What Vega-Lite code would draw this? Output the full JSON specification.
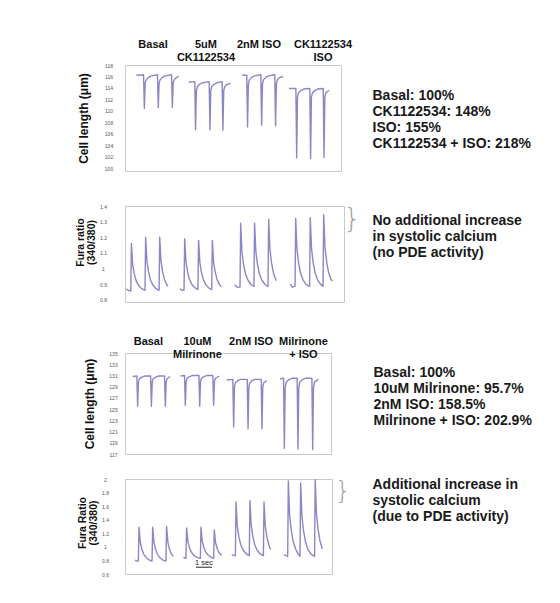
{
 "$schema": "https://vega.github.io/schema/vega-lite/v6.json",
 "background": "white",
 "autosize": {"type": "pad"},
 "padding": {"left": 75, "top": 38, "right": 5, "bottom": 5},
 "config": {
  "font": "Liberation Sans",
  "view": {"stroke": "#c8c8c8", "strokeWidth": 1},
  "axisY": {"grid": false, "ticks": false, "domain": false, "labelOverlap": false, "labelFontSize": 5, "labelColor": "#555", "labelAlign": "center", "labelFont": "Liberation Sans", "titleFont": "Liberation Sans", "titleFontWeight": "bold", "titleColor": "#111", "titleFontSize": 12}
 },
 "datasets": {
  "p1": [
   {"g":1,"t":0.71,"v":116.2},{"g":1,"t":1.16,"v":116.3},{"g":1,"t":1.21,"v":110.4},{"g":1,"t":1.26,"v":114.8},{"g":1,"t":1.32,"v":115.4},{"g":1,"t":1.45,"v":115.8},{"g":1,"t":1.65,"v":116.1},{"g":1,"t":2.03,"v":116.3},{"g":1,"t":2.08,"v":110.6},{"g":1,"t":2.13,"v":114.8},{"g":1,"t":2.19,"v":115.4},{"g":1,"t":2.32,"v":115.8},{"g":1,"t":2.52,"v":116.1},{"g":1,"t":2.91,"v":116.3},{"g":1,"t":2.96,"v":110.6},{"g":1,"t":3.01,"v":114.8},{"g":1,"t":3.07,"v":115.4},{"g":1,"t":3.2,"v":115.8},{"g":1,"t":3.35,"v":116.0},
   {"g":2,"t":3.98,"v":115.0},{"g":2,"t":4.36,"v":115.1},{"g":2,"t":4.41,"v":106.7},{"g":2,"t":4.46,"v":113.5},{"g":2,"t":4.52,"v":114.2},{"g":2,"t":4.65,"v":114.6},{"g":2,"t":4.85,"v":114.9},{"g":2,"t":5.26,"v":115.1},{"g":2,"t":5.31,"v":106.7},{"g":2,"t":5.36,"v":113.5},{"g":2,"t":5.42,"v":114.2},{"g":2,"t":5.55,"v":114.6},{"g":2,"t":5.75,"v":114.9},{"g":2,"t":6.07,"v":115.1},{"g":2,"t":6.12,"v":106.6},{"g":2,"t":6.17,"v":113.5},{"g":2,"t":6.23,"v":114.2},{"g":2,"t":6.36,"v":114.6},{"g":2,"t":6.6,"v":114.8},
   {"g":3,"t":7.33,"v":116.2},{"g":3,"t":7.61,"v":116.2},{"g":3,"t":7.66,"v":107.2},{"g":3,"t":7.71,"v":114.6},{"g":3,"t":7.77,"v":115.4},{"g":3,"t":7.9,"v":115.8},{"g":3,"t":8.1,"v":116.1},{"g":3,"t":8.49,"v":116.3},{"g":3,"t":8.54,"v":107.5},{"g":3,"t":8.59,"v":114.6},{"g":3,"t":8.65,"v":115.4},{"g":3,"t":8.78,"v":115.8},{"g":3,"t":8.98,"v":116.1},{"g":3,"t":9.36,"v":116.3},{"g":3,"t":9.41,"v":107.4},{"g":3,"t":9.46,"v":114.6},{"g":3,"t":9.52,"v":115.4},{"g":3,"t":9.65,"v":115.8},{"g":3,"t":9.88,"v":116.0},
   {"g":4,"t":10.25,"v":113.9},{"g":4,"t":10.68,"v":113.9},{"g":4,"t":10.73,"v":101.8},{"g":4,"t":10.78,"v":112.4},{"g":4,"t":10.84,"v":113.1},{"g":4,"t":10.97,"v":113.5},{"g":4,"t":11.17,"v":113.8},{"g":4,"t":11.55,"v":113.9},{"g":4,"t":11.6,"v":101.7},{"g":4,"t":11.65,"v":112.4},{"g":4,"t":11.71,"v":113.1},{"g":4,"t":11.84,"v":113.5},{"g":4,"t":12.04,"v":113.8},{"g":4,"t":12.39,"v":113.9},{"g":4,"t":12.44,"v":101.9},{"g":4,"t":12.49,"v":112.4},{"g":4,"t":12.55,"v":113.1},{"g":4,"t":12.75,"v":113.6}
  ],
  "p2": [
   {"g":1,"t":0.08,"v":0.87},{"g":1,"t":0.2,"v":0.86},{"g":1,"t":0.36,"v":0.855},{"g":1,"t":0.4,"v":1.16},{"g":1,"t":0.48,"v":1.025},{"g":1,"t":0.58,"v":0.965},{"g":1,"t":0.7,"v":0.92},{"g":1,"t":0.85,"v":0.89},{"g":1,"t":1.05,"v":0.87},{"g":1,"t":1.25,"v":0.86},
   {"g":1,"t":1.29,"v":1.2},{"g":1,"t":1.37,"v":1.047},{"g":1,"t":1.47,"v":0.979},{"g":1,"t":1.59,"v":0.928},{"g":1,"t":1.74,"v":0.894},{"g":1,"t":1.94,"v":0.87},{"g":1,"t":2.13,"v":0.86},
   {"g":1,"t":2.17,"v":1.2},{"g":1,"t":2.25,"v":1.047},{"g":1,"t":2.35,"v":0.979},{"g":1,"t":2.47,"v":0.928},{"g":1,"t":2.62,"v":0.894},{"g":1,"t":2.69,"v":0.885},
   {"g":2,"t":3.42,"v":0.87},{"g":2,"t":3.55,"v":0.86},{"g":2,"t":3.69,"v":0.86},{"g":2,"t":3.73,"v":1.19},{"g":2,"t":3.81,"v":1.044},{"g":2,"t":3.91,"v":0.979},{"g":2,"t":4.03,"v":0.93},{"g":2,"t":4.18,"v":0.897},{"g":2,"t":4.38,"v":0.875},{"g":2,"t":4.56,"v":0.865},
   {"g":2,"t":4.6,"v":1.18},{"g":2,"t":4.68,"v":1.038},{"g":2,"t":4.78,"v":0.975},{"g":2,"t":4.9,"v":0.928},{"g":2,"t":5.05,"v":0.896},{"g":2,"t":5.25,"v":0.874},{"g":2,"t":5.42,"v":0.865},
   {"g":2,"t":5.46,"v":1.18},{"g":2,"t":5.54,"v":1.038},{"g":2,"t":5.64,"v":0.975},{"g":2,"t":5.76,"v":0.928},{"g":2,"t":5.91,"v":0.896},{"g":2,"t":6.02,"v":0.882},
   {"g":3,"t":6.85,"v":0.895},{"g":3,"t":7.0,"v":0.88},{"g":3,"t":7.19,"v":0.88},{"g":3,"t":7.23,"v":1.29},{"g":3,"t":7.31,"v":1.108},{"g":3,"t":7.41,"v":1.027},{"g":3,"t":7.53,"v":0.966},{"g":3,"t":7.68,"v":0.926},{"g":3,"t":7.88,"v":0.897},{"g":3,"t":8.06,"v":0.885},
   {"g":3,"t":8.1,"v":1.29},{"g":3,"t":8.18,"v":1.108},{"g":3,"t":8.28,"v":1.027},{"g":3,"t":8.4,"v":0.966},{"g":3,"t":8.55,"v":0.926},{"g":3,"t":8.75,"v":0.897},{"g":3,"t":8.94,"v":0.885},
   {"g":3,"t":8.98,"v":1.315},{"g":3,"t":9.06,"v":1.122},{"g":3,"t":9.16,"v":1.036},{"g":3,"t":9.28,"v":0.971},{"g":3,"t":9.43,"v":0.928},{"g":3,"t":9.46,"v":0.922},
   {"g":4,"t":10.33,"v":0.9},{"g":4,"t":10.45,"v":0.88},{"g":4,"t":10.63,"v":0.885},{"g":4,"t":10.67,"v":1.32},{"g":4,"t":10.75,"v":1.124},{"g":4,"t":10.85,"v":1.037},{"g":4,"t":10.97,"v":0.972},{"g":4,"t":11.12,"v":0.929},{"g":4,"t":11.32,"v":0.898},{"g":4,"t":11.54,"v":0.885},
   {"g":4,"t":11.58,"v":1.325},{"g":4,"t":11.66,"v":1.127},{"g":4,"t":11.76,"v":1.039},{"g":4,"t":11.88,"v":0.973},{"g":4,"t":12.03,"v":0.929},{"g":4,"t":12.23,"v":0.898},{"g":4,"t":12.38,"v":0.885},
   {"g":4,"t":12.42,"v":1.345},{"g":4,"t":12.5,"v":1.138},{"g":4,"t":12.6,"v":1.046},{"g":4,"t":12.72,"v":0.977},{"g":4,"t":12.87,"v":0.931},{"g":4,"t":12.96,"v":0.92}
  ],
  "p3": [
   {"g":1,"t":0.48,"v":130.8},{"g":1,"t":0.74,"v":130.9},{"g":1,"t":0.79,"v":125.5},{"g":1,"t":0.84,"v":129.8},{"g":1,"t":0.9,"v":130.4},{"g":1,"t":1.05,"v":130.7},{"g":1,"t":1.25,"v":130.9},{"g":1,"t":1.6,"v":130.9},{"g":1,"t":1.65,"v":125.5},{"g":1,"t":1.7,"v":129.8},{"g":1,"t":1.76,"v":130.4},{"g":1,"t":1.91,"v":130.7},{"g":1,"t":2.11,"v":130.9},{"g":1,"t":2.47,"v":130.9},{"g":1,"t":2.52,"v":125.5},{"g":1,"t":2.57,"v":129.8},{"g":1,"t":2.63,"v":130.4},{"g":1,"t":2.81,"v":130.8},
   {"g":2,"t":3.48,"v":130.9},{"g":2,"t":3.72,"v":131.0},{"g":2,"t":3.77,"v":125.7},{"g":2,"t":3.82,"v":129.9},{"g":2,"t":3.88,"v":130.5},{"g":2,"t":4.03,"v":130.8},{"g":2,"t":4.23,"v":131.0},{"g":2,"t":4.62,"v":131.0},{"g":2,"t":4.67,"v":125.5},{"g":2,"t":4.72,"v":129.9},{"g":2,"t":4.78,"v":130.5},{"g":2,"t":4.93,"v":130.8},{"g":2,"t":5.13,"v":131.0},{"g":2,"t":5.49,"v":131.0},{"g":2,"t":5.54,"v":125.7},{"g":2,"t":5.59,"v":129.9},{"g":2,"t":5.65,"v":130.5},{"g":2,"t":5.9,"v":130.9},
   {"g":3,"t":6.35,"v":130.2},{"g":3,"t":6.74,"v":130.3},{"g":3,"t":6.79,"v":121.8},{"g":3,"t":6.84,"v":128.9},{"g":3,"t":6.9,"v":129.7},{"g":3,"t":7.05,"v":130.1},{"g":3,"t":7.25,"v":130.3},{"g":3,"t":7.64,"v":130.3},{"g":3,"t":7.69,"v":121.5},{"g":3,"t":7.74,"v":128.9},{"g":3,"t":7.8,"v":129.7},{"g":3,"t":7.95,"v":130.1},{"g":3,"t":8.15,"v":130.3},{"g":3,"t":8.51,"v":130.3},{"g":3,"t":8.56,"v":121.5},{"g":3,"t":8.61,"v":128.9},{"g":3,"t":8.67,"v":129.7},{"g":3,"t":8.85,"v":130.1},
   {"g":4,"t":9.69,"v":130.4},{"g":4,"t":9.91,"v":130.5},{"g":4,"t":9.96,"v":118.0},{"g":4,"t":10.01,"v":128.8},{"g":4,"t":10.07,"v":129.8},{"g":4,"t":10.22,"v":130.2},{"g":4,"t":10.42,"v":130.5},{"g":4,"t":10.76,"v":130.5},{"g":4,"t":10.81,"v":117.9},{"g":4,"t":10.86,"v":128.8},{"g":4,"t":10.92,"v":129.8},{"g":4,"t":11.07,"v":130.2},{"g":4,"t":11.27,"v":130.5},{"g":4,"t":11.68,"v":130.5},{"g":4,"t":11.73,"v":117.8},{"g":4,"t":11.78,"v":128.8},{"g":4,"t":11.84,"v":129.8},{"g":4,"t":12.08,"v":130.3}
  ],
  "p4": [
   {"g":1,"t":0.625,"v":0.805},{"g":1,"t":0.75,"v":0.79},{"g":1,"t":0.835,"v":0.79},{"g":1,"t":0.875,"v":1.29},{"g":1,"t":0.955,"v":1.065},{"g":1,"t":1.055,"v":0.965},{"g":1,"t":1.175,"v":0.89},{"g":1,"t":1.325,"v":0.84},{"g":1,"t":1.525,"v":0.805},{"g":1,"t":1.69,"v":0.79},
   {"g":1,"t":1.73,"v":1.29},{"g":1,"t":1.81,"v":1.065},{"g":1,"t":1.91,"v":0.965},{"g":1,"t":2.03,"v":0.89},{"g":1,"t":2.18,"v":0.84},{"g":1,"t":2.38,"v":0.805},{"g":1,"t":2.56,"v":0.79},
   {"g":1,"t":2.6,"v":1.3},{"g":1,"t":2.68,"v":1.07},{"g":1,"t":2.78,"v":0.967},{"g":1,"t":2.9,"v":0.892},{"g":1,"t":3.02,"v":0.86},
   {"g":2,"t":3.65,"v":0.85},{"g":2,"t":3.75,"v":0.835},{"g":2,"t":3.81,"v":0.83},{"g":2,"t":3.85,"v":1.28},{"g":2,"t":3.93,"v":1.078},{"g":2,"t":4.03,"v":0.988},{"g":2,"t":4.15,"v":0.92},{"g":2,"t":4.3,"v":0.875},{"g":2,"t":4.5,"v":0.844},{"g":2,"t":4.71,"v":0.83},
   {"g":2,"t":4.75,"v":1.29},{"g":2,"t":4.83,"v":1.083},{"g":2,"t":4.93,"v":0.991},{"g":2,"t":5.05,"v":0.922},{"g":2,"t":5.2,"v":0.876},{"g":2,"t":5.4,"v":0.844},{"g":2,"t":5.54,"v":0.83},
   {"g":2,"t":5.58,"v":1.25},{"g":2,"t":5.66,"v":1.061},{"g":2,"t":5.76,"v":0.977},{"g":2,"t":5.88,"v":0.914},{"g":2,"t":6.04,"v":0.872},
   {"g":3,"t":6.67,"v":0.885},{"g":3,"t":6.8,"v":0.875},{"g":3,"t":6.9,"v":0.87},{"g":3,"t":6.94,"v":1.66},{"g":3,"t":7.02,"v":1.305},{"g":3,"t":7.12,"v":1.147},{"g":3,"t":7.24,"v":1.028},{"g":3,"t":7.39,"v":0.949},{"g":3,"t":7.59,"v":0.894},{"g":3,"t":7.77,"v":0.87},
   {"g":3,"t":7.81,"v":1.68},{"g":3,"t":7.89,"v":1.316},{"g":3,"t":7.99,"v":1.154},{"g":3,"t":8.11,"v":1.032},{"g":3,"t":8.26,"v":0.951},{"g":3,"t":8.46,"v":0.894},{"g":3,"t":8.65,"v":0.87},
   {"g":3,"t":8.69,"v":1.66},{"g":3,"t":8.77,"v":1.305},{"g":3,"t":8.87,"v":1.147},{"g":3,"t":8.99,"v":1.028},{"g":3,"t":9.1,"v":0.96},
   {"g":4,"t":9.94,"v":0.885},{"g":4,"t":10.05,"v":0.87},{"g":4,"t":10.17,"v":0.86},{"g":4,"t":10.21,"v":1.97},{"g":4,"t":10.29,"v":1.47},{"g":4,"t":10.39,"v":1.249},{"g":4,"t":10.51,"v":1.082},{"g":4,"t":10.66,"v":0.971},{"g":4,"t":10.82,"v":0.9},{"g":4,"t":10.94,"v":0.86},
   {"g":4,"t":10.98,"v":1.94},{"g":4,"t":11.06,"v":1.454},{"g":4,"t":11.16,"v":1.238},{"g":4,"t":11.28,"v":1.076},{"g":4,"t":11.43,"v":0.968},{"g":4,"t":11.63,"v":0.892},{"g":4,"t":11.85,"v":0.86},
   {"g":4,"t":11.89,"v":1.99},{"g":4,"t":11.97,"v":1.482},{"g":4,"t":12.07,"v":1.256},{"g":4,"t":12.19,"v":1.086},{"g":4,"t":12.33,"v":0.97}
  ],
  "h1": [
   {"t":1.75,"label":"Basal"},{"t":5.06,"label":"5uM\nCK1122534"},{"t":8.375,"label":"2nM ISO"},{"t":12.375,"label":"CK1122534\nISO"}
  ],
  "h3": [
   {"t":1.46,"label":"Basal"},{"t":4.53,"label":"10uM\nMilrinone"},{"t":7.88,"label":"2nM ISO"},{"t":11.15,"label":"Milrinone\n+ ISO"}
  ],
  "r1": [
   {"line":1,"text":"Basal: 100%"},{"line":2,"text":"CK1122534: 148%"},{"line":3,"text":"ISO: 155%"},{"line":4,"text":"CK1122534 + ISO: 218%"}
  ],
  "r2": [
   {"line":1,"text":"No additional increase"},{"line":2,"text":"in systolic calcium"},{"line":3,"text":"(no PDE activity)"}
  ],
  "r3": [
   {"line":1,"text":"Basal: 100%"},{"line":2,"text":"10uM Milrinone: 95.7%"},{"line":3,"text":"2nM ISO: 158.5%"},{"line":4,"text":"Milrinone + ISO: 202.9%"}
  ],
  "r4": [
   {"line":1,"text":"Additional increase in"},{"line":2,"text":"systolic calcium"},{"line":3,"text":"(due to PDE activity)"}
  ],
  "bar": [
   {"t":4.44,"t2":5.44,"tm":4.94,"v":0.7,"label":"1 sec"}
  ],
  "brace": [
   {"line":1,"text":"}"}
  ]
 },
 "spacing": 31,
 "vconcat": [
  {
   "spacing": 31,
   "vconcat": [
    {
     "spacing": 19,
     "hconcat": [
      {
       "width": 216, "height": 106,
       "resolve": {"scale": {"y": "independent"}, "axis": {"y": "independent"}},
       "layer": [
        {
         "data": {"name": "p1"},
         "mark": {"type": "line", "color": "#8a87c6", "strokeWidth": 1.4, "strokeJoin": "round"},
         "encoding": {
          "x": {"field": "t", "type": "quantitative", "scale": {"domain": [0, 13.5], "nice": false}, "axis": null},
          "y": {"field": "v", "type": "quantitative", "scale": {"domain": [99.5, 118], "nice": false, "zero": false},
                "axis": {"orient": "left", "title": "Cell length (μm)", "values": [100,102,104,106,108,110,112,114,116,118], "labelOverlap": false, "labelPadding": 16.5, "titlePadding": 14}},
          "detail": {"field": "g"}
         }
        },
        {
         "data": {"name": "h1"},
         "mark": {"type": "text", "baseline": "top", "dy": -26, "fontSize": 11, "fontWeight": "bold", "lineBreak": "\n", "lineHeight": 13, "color": "#111"},
         "encoding": {
          "x": {"field": "t", "type": "quantitative"},
          "y": {"datum": 118, "scale": {"domain": [99.5, 118], "nice": false, "zero": false}, "axis": null},
          "text": {"field": "label"}
         }
        }
       ]
      },
      {
       "width": 1, "height": 106, "view": {"stroke": null},
       "data": {"name": "r1"},
       "mark": {"type": "text", "align": "left", "baseline": "middle", "fontSize": 14, "fontWeight": "bold", "color": "#1a1a1a"},
       "encoding": {
        "y": {"field": "line", "type": "quantitative", "scale": {"domain": [-0.9375, 5.6875], "reverse": true, "nice": false, "zero": false}, "axis": null},
        "text": {"field": "text"}
       }
      }
     ]
    },
    {
     "spacing": -2,
     "hconcat": [
      {
       "width": 219, "height": 96,
       "data": {"name": "p2"},
       "mark": {"type": "line", "color": "#8a87c6", "strokeWidth": 1.4, "strokeJoin": "round"},
       "encoding": {
        "x": {"field": "t", "type": "quantitative", "scale": {"domain": [0, 13.69], "nice": false}, "axis": null},
        "y": {"field": "v", "type": "quantitative", "scale": {"domain": [0.785, 1.4], "nice": false, "zero": false},
              "axis": {"title": ["Fura ratio", "(340/380)"], "titleFontSize": 10.5, "titleLineHeight": 11, "titleY": 36, "format": "~g", "values": [0.8,0.9,1,1.1,1.2,1.3,1.4], "labelOverlap": false, "labelPadding": 22, "titlePadding": 3}},
        "detail": {"field": "g"}
       }
      },
      {
       "width": 1, "height": 96, "view": {"stroke": null},
       "layer": [
        {
         "data": {"name": "r2"},
         "mark": {"type": "text", "align": "left", "baseline": "middle", "fontSize": 14, "fontWeight": "bold", "color": "#1a1a1a"},
         "encoding": {
          "y": {"field": "line", "type": "quantitative", "scale": {"domain": [0.0625, 6.0625], "reverse": true, "nice": false, "zero": false}, "axis": null},
          "text": {"field": "text"}
         }
        },
        {
         "data": {"name": "brace"},
         "mark": {"type": "text", "align": "center", "baseline": "middle", "fontSize": 27, "dx": -20.5, "dy": -2, "color": "#a0a0a0", "font": "DejaVu Sans", "fontWeight": 200},
         "encoding": {
          "y": {"field": "line", "type": "quantitative", "axis": null},
          "text": {"field": "text"}
         }
        }
       ]
      }
     ]
    }
   ]
  },
  {
   "spacing": 18,
   "vconcat": [
    {
     "spacing": 41,
     "hconcat": [
      {
       "width": 206, "height": 101,
       "resolve": {"scale": {"y": "independent"}, "axis": {"y": "independent"}},
       "layer": [
        {
         "data": {"name": "p3"},
         "mark": {"type": "line", "color": "#8a87c6", "strokeWidth": 1.4, "strokeJoin": "round"},
         "encoding": {
          "x": {"field": "t", "type": "quantitative", "scale": {"domain": [0, 12.875], "nice": false}, "axis": null},
          "y": {"field": "v", "type": "quantitative", "scale": {"domain": [117, 135], "nice": false, "zero": false},
                "axis": {"orient": "left", "title": "Cell length (μm)", "values": [117,119,121,123,125,127,129,131,133,135], "labelOverlap": false, "labelPadding": 12, "titlePadding": 12}},
          "detail": {"field": "g"}
         }
        },
        {
         "data": {"name": "h3"},
         "mark": {"type": "text", "baseline": "middle", "dy": -11.5, "fontSize": 11, "fontWeight": "bold", "lineBreak": "\n", "lineHeight": 13, "color": "#111"},
         "encoding": {
          "x": {"field": "t", "type": "quantitative"},
          "y": {"datum": 135, "scale": {"domain": [117, 135], "nice": false, "zero": false}, "axis": null},
          "text": {"field": "label"}
         }
        }
       ]
      },
      {
       "width": 1, "height": 101, "view": {"stroke": null},
       "data": {"name": "r3"},
       "mark": {"type": "text", "align": "left", "baseline": "middle", "fontSize": 14, "fontWeight": "bold", "color": "#1a1a1a"},
       "encoding": {
        "y": {"field": "line", "type": "quantitative", "scale": {"domain": [-0.25, 6.0625], "reverse": true, "nice": false, "zero": false}, "axis": null},
        "text": {"field": "text"}
       }
      }
     ]
    },
    {
     "spacing": 2,
     "hconcat": [
      {
       "width": 207, "height": 95,
       "resolve": {"scale": {"y": "independent"}, "axis": {"y": "independent"}},
       "layer": [
        {
         "data": {"name": "p4"},
         "mark": {"type": "line", "color": "#8a87c6", "strokeWidth": 1.4, "strokeJoin": "round"},
         "encoding": {
          "x": {"field": "t", "type": "quantitative", "scale": {"domain": [0, 12.94], "nice": false}, "axis": null},
          "y": {"field": "v", "type": "quantitative", "scale": {"domain": [0.6, 2], "nice": false, "zero": false},
                "axis": {"orient": "left", "title": ["Fura Ratio", "(340/380)"], "titleFontSize": 10.5, "titleLineHeight": 11, "titleY": 43.5, "format": "~g", "values": [0.6,0.8,1,1.2,1.4,1.6,1.8,2], "labelOverlap": false, "labelPadding": 20, "titlePadding": 3}},
          "detail": {"field": "g"}
         }
        },
        {
         "data": {"name": "bar"},
         "mark": {"type": "rule", "color": "#222", "strokeWidth": 1},
         "encoding": {
          "x": {"field": "t", "type": "quantitative"},
          "x2": {"field": "t2"},
          "y": {"field": "v", "type": "quantitative", "scale": {"domain": [0.6, 2], "nice": false, "zero": false}, "axis": null}
         }
        },
        {
         "data": {"name": "bar"},
         "mark": {"type": "text", "baseline": "bottom", "dy": -0.5, "fontSize": 7.5, "color": "#222"},
         "encoding": {
          "x": {"field": "tm", "type": "quantitative"},
          "y": {"field": "v", "type": "quantitative", "scale": {"domain": [0.6, 2], "nice": false, "zero": false}, "axis": null},
          "text": {"field": "label"}
         }
        }
       ]
      },
      {
       "width": 1, "height": 95, "view": {"stroke": null},
       "layer": [
        {
         "data": {"name": "r4"},
         "mark": {"type": "text", "align": "left", "baseline": "middle", "fontSize": 14, "fontWeight": "bold", "color": "#1a1a1a"},
         "encoding": {
          "y": {"field": "line", "type": "quantitative", "scale": {"domain": [0.625, 6.5625], "reverse": true, "nice": false, "zero": false}, "axis": null},
          "text": {"field": "text"}
         }
        },
        {
         "data": {"name": "brace"},
         "mark": {"type": "text", "align": "center", "baseline": "middle", "fontSize": 25, "dx": -29.5, "dy": 5.5, "color": "#a0a0a0", "font": "DejaVu Sans", "fontWeight": 200},
         "encoding": {
          "y": {"field": "line", "type": "quantitative", "axis": null},
          "text": {"field": "text"}
         }
        }
       ]
      }
     ]
    }
   ]
  }
 ]
}
